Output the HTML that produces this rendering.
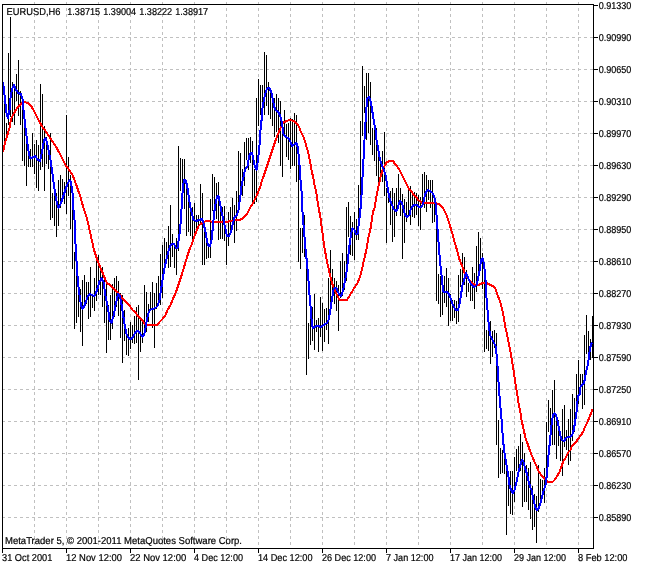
<!DOCTYPE html>
<html lang="en"><head><meta charset="utf-8"><title>EURUSD,H6</title>
<style>
html,body{margin:0;padding:0;background:#fff;}
body{width:646px;height:569px;overflow:hidden;position:relative;font-family:"Liberation Sans",sans-serif;font-size:10.2px;color:#000;}
svg{position:absolute;left:0;top:0;display:block;}
text{font-family:"Liberation Sans",sans-serif;font-size:10px;fill:#000;stroke:#000;stroke-width:0.2px;text-rendering:geometricPrecision;}
</style></head><body>
<svg width="646" height="569" viewBox="0 0 646 569">
<rect width="646" height="569" fill="#fff"/>
<g stroke="#c0c0c0" stroke-width="1" stroke-dasharray="3 3" shape-rendering="crispEdges" fill="none">
<path d="M2 37.5H593"/><path d="M2 69.5H593"/><path d="M2 101.5H593"/><path d="M2 133.5H593"/><path d="M2 165.5H593"/><path d="M2 197.5H593"/><path d="M2 229.5H593"/><path d="M2 261.5H593"/><path d="M2 293.5H593"/><path d="M2 325.5H593"/><path d="M2 357.5H593"/><path d="M2 389.5H593"/><path d="M2 421.5H593"/><path d="M2 453.5H593"/><path d="M2 485.5H593"/><path d="M2 517.5H593"/>
<path d="M34.5 2V548"/><path d="M66.5 2V548"/><path d="M98.5 2V548"/><path d="M130.5 2V548"/><path d="M162.5 2V548"/><path d="M194.5 2V548"/><path d="M226.5 2V548"/><path d="M258.5 2V548"/><path d="M290.5 2V548"/><path d="M322.5 2V548"/><path d="M354.5 2V548"/><path d="M386.5 2V548"/><path d="M418.5 2V548"/><path d="M450.5 2V548"/><path d="M482.5 2V548"/><path d="M514.5 2V548"/><path d="M546.5 2V548"/><path d="M578.5 2V548"/>
</g>
<g stroke="#000" stroke-width="1" shape-rendering="crispEdges" fill="none">
<path d="M4.5 86V142M6.5 123V134M8.5 53V125M10.5 17V117M12.5 82V122M14.5 84V125M16.5 74V101M18.5 60V116M20.5 91V125M22.5 101V161M24.5 117V166M26.5 128V186M28.5 145V167M30.5 149V167M32.5 133V167M34.5 144V174M36.5 140V188M38.5 145V191M40.5 84V170M42.5 94V167M44.5 126V191M46.5 137V164M48.5 145V169M50.5 133V220M52.5 193V218M54.5 190V226M56.5 193V237M58.5 180V226M60.5 175V208M62.5 179V200M64.5 182V204M66.5 115V214M68.5 157V196M70.5 175V229M72.5 190V269M74.5 252V329M76.5 270V323M78.5 285V317M80.5 289V332M82.5 280V346M84.5 275V304M86.5 282V304M88.5 282V319M90.5 267V317M92.5 294V308M94.5 278V311M96.5 257V301M98.5 255V295M100.5 265V295M102.5 267V307M104.5 280V323M106.5 280V353M108.5 305V340M110.5 295V340M112.5 284V329M114.5 278V317M116.5 276V307M118.5 281V316M120.5 293V338M122.5 295V363M124.5 310V341M126.5 331V355M128.5 328V356M130.5 322V349M132.5 325V343M134.5 316V344M136.5 307V343M138.5 305V380M140.5 318V352M142.5 320V343M144.5 285V336M146.5 292V332M148.5 304V322M150.5 292V310M152.5 282V328M154.5 293V348M156.5 283V309M158.5 276V303M160.5 254V305M162.5 245V298M164.5 238V265M166.5 242V263M168.5 226V268M170.5 205V267M172.5 234V257M174.5 245V268M176.5 238V275M178.5 146V251M180.5 158V191M182.5 159V206M184.5 159V209M186.5 185V236M188.5 200V232M190.5 207V236M192.5 207V240M194.5 203V234M196.5 215V229M198.5 215V225M200.5 184V225M202.5 193V265M204.5 225V265M206.5 240V259M208.5 244V258M210.5 199V258M212.5 174V211M214.5 177V212M216.5 183V219M218.5 182V240M220.5 202V239M222.5 207V239M224.5 206V241M226.5 234V265M228.5 212V246M230.5 207V232M232.5 198V225M234.5 205V243M236.5 191V231M238.5 151V213M240.5 153V202M242.5 169V196M244.5 142V186M246.5 138V160M248.5 138V170M250.5 137V163M252.5 141V205M254.5 169V204M256.5 98V202M258.5 79V126M260.5 85V115M262.5 85V112M264.5 52V115M266.5 55V106M268.5 82V115M270.5 90V119M272.5 93V126M274.5 98V137M276.5 94V132M278.5 98V143M280.5 101V166M282.5 124V177M284.5 110V137M286.5 124V157M288.5 123V160M290.5 118V169M292.5 119V166M294.5 113V166M296.5 115V182M298.5 146V262M300.5 228V269M302.5 228V253M304.5 215V257M306.5 250V375M308.5 323V359M310.5 310V345M312.5 307V341M314.5 294V350M316.5 320V332M318.5 318V352M320.5 297V337M322.5 303V351M324.5 309V342M326.5 308V330M328.5 278V344M330.5 250V310M332.5 269V295M334.5 278V304M336.5 281V311M338.5 285V331M340.5 261V298M342.5 253V296M344.5 261V290M346.5 207V281M348.5 202V237M350.5 216V255M352.5 222V256M354.5 212V260M356.5 219V240M358.5 185V240M360.5 121V213M362.5 66V136M364.5 86V113M366.5 73V140M368.5 73V133M370.5 82V145M372.5 128V155M374.5 130V161M376.5 128V176M378.5 152V185M380.5 160V182M382.5 151V182M384.5 132V196M386.5 188V243M388.5 194V203M390.5 191V225M392.5 188V242M394.5 193V237M396.5 188V216M398.5 174V207M400.5 188V216M402.5 194V259M404.5 199V243M406.5 202V222M408.5 188V217M410.5 186V225M412.5 191V217M414.5 192V218M416.5 193V215M418.5 195V226M420.5 197V230M422.5 174V203M424.5 172V208M426.5 175V212M428.5 180V200M430.5 180V208M432.5 180V223M434.5 196V222M436.5 205V301M438.5 274V304M440.5 276V317M442.5 275V315M444.5 276V303M446.5 268V307M448.5 278V326M450.5 294V321M452.5 300V321M454.5 300V318M456.5 301V324M458.5 275V322M460.5 269V287M462.5 253V282M464.5 257V285M466.5 270V297M468.5 283V292M470.5 282V301M472.5 267V301M474.5 273V309M476.5 246V292M478.5 232V274M480.5 238V270M482.5 253V289M484.5 270V352M486.5 330V349M488.5 327V351M490.5 321V364M492.5 331V357M494.5 330V348M496.5 333V445M498.5 420V478M500.5 448V474M502.5 450V473M504.5 447V474M506.5 460V535M508.5 471V506M510.5 471V514M512.5 471V515M514.5 457V502M516.5 449V471M518.5 446V471M520.5 434V471M522.5 442V507M524.5 453V502M526.5 465V502M528.5 468V510M530.5 462V519M532.5 486V530M534.5 494V527M536.5 496V543M538.5 465V512M540.5 479V500M542.5 480V498M544.5 468V503M546.5 422V485M548.5 400V432M550.5 408V440M552.5 390V445M554.5 380V445M556.5 414V459M558.5 420V446M560.5 435V461M562.5 409V476M564.5 405V447M566.5 430V450M568.5 419V465M570.5 409V461M572.5 394V441M574.5 398V432M576.5 374V410M578.5 360V404M580.5 374V394M582.5 374V409M584.5 335V405M586.5 315V354M588.5 331V358M590.5 339V360M592.5 316V358"/>
</g>
<polyline fill="none" stroke="#ff0000" stroke-width="2" stroke-linejoin="round" shape-rendering="crispEdges" points="3.0,152.0 5.0,143.0 7.0,136.0 9.5,128.0 11.0,119.0 13.5,114.0 16.5,109.0 19.5,105.0 22.5,103.0 24.5,102.0 27.5,103.0 30.5,105.0 33.5,110.0 36.5,116.0 39.5,122.0 42.5,127.0 45.0,130.0 47.5,134.0 50.0,138.0 55.0,145.0 60.0,154.0 65.5,165.0 70.0,171.0 73.0,176.0 77.0,187.0 80.5,197.0 84.0,210.0 86.0,215.0 88.0,223.0 90.0,232.0 92.0,241.0 94.0,250.0 96.0,256.0 98.0,262.0 100.5,268.0 103.5,275.0 105.5,280.0 107.0,283.0 110.0,285.0 111.0,286.0 115.0,290.0 118.5,293.0 120.0,295.0 121.5,297.0 123.5,300.0 125.0,301.0 128.0,304.0 130.0,306.0 132.5,310.0 136.0,313.0 137.0,315.0 141.0,319.0 143.5,322.0 146.0,325.0 149.5,325.0 153.5,325.0 157.0,325.0 159.5,322.0 162.5,319.0 165.5,315.0 167.5,310.0 170.0,306.0 172.5,300.0 176.0,292.0 179.0,283.0 182.0,274.0 185.0,264.0 188.0,254.0 190.0,248.0 192.0,244.0 194.0,237.0 196.5,231.0 198.5,226.0 200.5,224.0 203.5,222.0 206.0,221.0 207.5,221.0 209.0,221.0 212.5,222.0 216.0,222.0 219.0,222.0 221.0,222.0 226.0,222.0 231.0,221.0 235.5,220.0 240.0,220.0 244.5,217.0 247.0,214.0 250.0,208.0 253.0,203.0 256.0,197.0 259.0,190.0 260.5,186.0 262.0,180.0 263.0,178.0 266.0,169.0 269.0,160.0 272.0,151.0 275.0,142.0 278.0,134.0 281.0,127.0 283.0,123.0 286.0,121.0 290.0,120.0 293.5,121.0 296.5,123.0 299.0,127.0 301.0,132.0 303.5,137.0 305.5,143.0 308.0,152.0 310.0,161.0 311.5,170.0 313.5,179.0 314.5,185.0 316.0,191.0 318.0,204.0 320.5,218.0 322.5,233.0 324.5,248.0 326.0,256.0 328.0,266.0 330.0,275.0 332.0,283.0 335.5,292.0 339.5,300.0 347.0,300.0 350.0,295.0 353.0,290.0 357.5,283.0 360.0,277.0 362.0,269.0 364.5,258.0 366.5,249.0 369.0,234.0 370.0,232.0 371.5,222.0 373.0,212.0 374.5,208.0 376.0,199.0 377.5,191.0 379.0,184.0 380.5,177.0 382.5,170.0 385.0,165.0 387.0,162.0 390.0,161.0 393.0,161.0 395.0,164.0 397.5,167.0 399.5,170.0 402.0,175.0 404.0,179.0 406.5,184.0 408.5,188.0 411.0,191.0 414.0,195.0 417.0,198.0 418.0,200.0 420.0,201.0 421.0,202.0 422.0,203.0 423.5,203.0 425.0,203.0 427.0,203.0 429.5,203.0 432.5,203.0 436.0,203.0 438.5,204.0 441.5,206.0 443.5,209.0 446.0,214.0 448.0,219.0 450.0,226.0 452.5,234.0 454.5,242.0 457.0,250.0 459.0,258.0 460.5,262.0 463.0,268.0 465.0,274.0 466.0,273.0 467.0,277.0 470.0,281.0 473.0,284.0 476.0,285.0 479.0,285.0 482.0,283.0 485.0,283.0 487.0,283.0 490.0,285.0 493.0,286.0 495.5,289.0 497.5,295.0 500.0,301.0 502.0,309.0 503.5,316.0 505.5,328.0 507.0,334.0 508.5,342.0 510.5,352.0 512.0,361.0 513.5,370.0 515.0,381.0 516.5,390.0 518.0,399.0 519.0,406.0 520.5,413.0 521.5,420.0 523.5,429.0 525.5,438.0 528.0,445.0 530.0,451.0 532.0,456.0 534.5,462.0 537.0,467.0 538.5,471.0 541.0,475.0 544.0,478.0 545.5,480.0 546.5,481.0 548.5,482.0 550.5,482.0 552.5,482.0 554.5,480.0 556.5,477.0 559.0,473.0 561.0,468.0 563.0,462.0 566.0,457.0 568.5,452.0 570.5,450.0 572.0,446.0 573.5,445.0 575.0,443.0 576.0,442.0 578.0,439.0 581.0,435.0 583.0,432.0 585.0,427.0 587.5,422.0 590.0,416.0 591.5,412.0 592.5,409.0"/>
<polyline fill="none" stroke="#0000ff" stroke-width="2" stroke-linejoin="round" shape-rendering="crispEdges" points="3.0,82.0 4.0,90.0 5.0,99.0 6.5,113.0 8.0,118.0 9.5,110.0 10.5,98.0 12.0,89.0 14.0,85.0 15.5,89.0 18.0,93.0 21.0,94.0 22.5,99.0 23.5,110.0 25.5,128.0 26.5,136.0 28.0,148.0 30.0,158.0 32.0,158.0 35.0,156.0 38.0,160.0 40.0,161.0 42.0,152.0 44.0,140.0 45.5,138.0 47.0,142.0 49.0,152.0 51.0,163.0 53.0,178.0 55.0,193.0 57.0,203.0 58.5,208.0 61.0,203.0 64.0,194.0 67.0,185.0 69.5,180.0 71.0,182.0 72.5,193.0 73.5,210.0 74.5,220.0 75.5,244.0 76.5,261.0 78.0,283.0 79.5,295.0 81.0,305.0 82.5,309.0 84.0,307.0 86.0,301.0 88.0,296.0 90.0,294.0 92.0,295.0 94.5,296.0 96.0,293.0 98.0,287.0 99.5,281.0 100.5,281.0 101.5,278.0 103.5,282.0 105.0,293.0 107.0,303.0 108.0,308.0 109.5,320.0 111.5,323.0 114.0,314.0 115.5,305.0 117.0,299.0 118.0,294.0 119.5,295.0 121.0,301.0 122.5,311.0 124.5,324.0 126.5,334.0 128.5,338.0 130.5,339.0 132.5,338.0 134.5,334.0 136.5,331.0 138.5,331.0 140.5,334.0 142.5,337.0 144.0,335.0 145.5,328.0 147.0,319.0 148.5,313.0 150.0,310.0 152.5,309.0 155.5,308.0 157.5,306.0 159.5,300.0 161.0,290.0 162.5,280.0 164.5,268.0 166.5,259.0 168.5,251.0 170.5,245.0 172.0,244.0 174.0,244.0 176.0,248.0 177.5,248.0 179.5,234.0 181.0,219.0 182.0,200.0 183.0,186.0 184.0,180.0 185.5,180.0 187.0,185.0 188.5,195.0 190.0,206.0 192.0,214.0 193.5,220.0 196.0,221.0 199.0,220.0 202.0,219.0 203.5,223.0 205.5,232.0 207.0,241.0 208.5,246.0 210.0,246.0 211.5,240.0 213.0,226.0 214.0,214.0 215.5,204.0 217.0,197.0 218.5,196.0 220.0,203.0 221.5,212.0 223.5,220.0 225.0,227.0 227.0,236.0 229.0,236.0 231.0,232.0 232.5,225.0 234.5,217.0 236.5,216.0 238.5,210.0 239.5,202.0 240.5,195.0 241.5,186.0 243.0,179.0 245.0,170.0 247.5,166.0 249.0,157.0 250.5,153.0 252.0,153.0 253.5,160.0 255.0,167.0 256.5,170.0 258.0,160.0 259.5,145.0 260.5,130.0 262.0,116.0 262.5,108.0 264.0,99.0 265.5,93.0 267.0,89.0 268.5,88.0 270.0,89.0 271.5,93.0 273.0,100.0 274.0,106.0 275.5,110.0 278.0,112.0 280.0,115.0 282.0,123.0 283.5,134.0 285.5,137.0 288.5,138.0 290.5,142.0 292.0,146.0 294.5,144.0 296.5,143.0 298.0,148.0 299.5,165.0 300.5,180.0 301.5,191.0 302.5,212.0 303.5,225.0 304.5,237.0 305.5,249.0 307.0,263.0 308.5,281.0 309.5,295.0 311.0,312.0 312.0,326.0 313.0,328.0 314.5,327.0 316.5,326.0 318.5,326.0 320.5,327.0 322.5,326.0 325.0,324.0 327.0,323.0 328.5,320.0 330.0,313.0 331.0,305.0 332.5,296.0 333.5,290.0 335.0,288.0 336.5,288.0 338.0,292.0 339.5,295.0 341.0,296.0 342.5,292.0 344.0,286.0 345.5,278.0 347.0,269.0 349.0,249.0 351.0,234.0 352.5,228.0 354.5,230.0 356.0,234.0 357.5,234.0 359.5,218.0 361.0,204.0 363.0,169.0 365.0,130.0 366.5,107.0 367.5,98.0 369.0,97.0 370.5,101.0 372.0,109.0 373.5,119.0 375.5,130.0 376.5,140.0 378.0,148.0 379.5,157.0 382.0,166.0 384.0,170.0 385.5,175.0 387.0,184.0 388.5,193.0 390.0,200.0 391.0,203.0 392.5,206.0 393.5,209.0 394.5,210.0 396.5,211.0 397.5,209.0 398.5,205.0 400.0,201.0 402.0,203.0 403.5,209.0 405.0,215.0 406.5,217.0 408.5,216.0 409.5,215.0 410.5,210.0 412.5,206.0 414.5,205.0 417.0,205.0 419.0,207.0 420.0,207.0 421.5,207.0 423.0,204.0 424.5,197.0 426.0,192.0 428.0,190.0 430.0,191.0 432.5,193.0 433.5,195.0 435.0,199.0 436.0,207.0 437.0,223.0 438.0,235.0 440.0,261.0 441.5,275.0 442.5,285.0 443.5,292.0 445.5,292.0 447.5,292.0 449.0,294.0 450.5,298.0 452.5,304.0 454.5,308.0 456.0,310.0 458.0,310.0 459.5,304.0 461.0,295.0 462.5,285.0 464.0,281.0 465.0,276.0 466.0,273.0 467.0,275.0 468.5,279.0 470.5,283.0 472.5,286.0 474.5,287.0 476.5,285.0 478.0,279.0 479.5,271.0 480.5,264.0 481.5,259.0 482.5,258.0 484.0,264.0 485.5,280.0 486.5,298.0 487.5,310.0 489.0,328.0 490.5,336.0 492.5,340.0 494.0,343.0 495.5,346.0 497.0,358.0 498.5,382.0 500.0,403.0 501.5,419.0 503.0,440.0 504.5,453.0 507.0,468.0 508.5,477.0 509.5,485.0 511.0,490.0 513.0,493.0 514.5,490.0 516.0,484.0 517.5,477.0 519.0,470.0 520.0,466.0 522.0,460.0 523.5,462.0 525.0,468.0 527.0,474.0 528.5,481.0 530.5,488.0 531.5,490.0 533.0,498.0 534.5,504.0 536.0,509.0 537.5,510.0 539.0,508.0 540.5,503.0 542.0,497.0 543.5,491.0 545.5,485.0 547.0,474.0 548.5,455.0 550.0,441.0 551.0,430.0 552.0,421.0 553.0,415.0 554.5,413.0 556.0,415.0 557.5,421.0 559.0,428.0 560.5,436.0 562.0,440.0 564.0,441.0 566.0,438.0 568.5,437.0 570.5,437.0 572.5,434.0 574.0,429.0 576.5,412.0 577.5,401.0 578.5,395.0 579.5,395.0 580.5,387.0 582.5,384.0 584.0,383.0 585.0,378.0 586.5,370.0 588.0,364.0 589.0,356.0 590.0,349.0 591.0,344.0 592.5,343.0"/>
<g stroke="#000" stroke-width="1" shape-rendering="crispEdges" fill="none">
<path d="M2.5 4V548.5M2 4.5H594M593.5 4V548.5M2 548.5H594"/>
<path d="M594 5.5H598M594 37.5H598M594 69.5H598M594 101.5H598M594 133.5H598M594 165.5H598M594 197.5H598M594 229.5H598M594 261.5H598M594 293.5H598M594 325.5H598M594 357.5H598M594 389.5H598M594 421.5H598M594 453.5H598M594 485.5H598M594 517.5H598M2.5 549V553M66.5 549V553M130.5 549V553M194.5 549V553M258.5 549V553M322.5 549V553M386.5 549V553M450.5 549V553M514.5 549V553M578.5 549V553"/>
</g>
<g>
<text x="598.7" y="9" textLength="32.6" lengthAdjust="spacingAndGlyphs" xml:space="preserve">0.91330</text>
<text x="598.7" y="41" textLength="32.6" lengthAdjust="spacingAndGlyphs" xml:space="preserve">0.90990</text>
<text x="598.7" y="73" textLength="32.6" lengthAdjust="spacingAndGlyphs" xml:space="preserve">0.90650</text>
<text x="598.7" y="105" textLength="32.6" lengthAdjust="spacingAndGlyphs" xml:space="preserve">0.90310</text>
<text x="598.7" y="137" textLength="32.6" lengthAdjust="spacingAndGlyphs" xml:space="preserve">0.89970</text>
<text x="598.7" y="169" textLength="32.6" lengthAdjust="spacingAndGlyphs" xml:space="preserve">0.89630</text>
<text x="598.7" y="201" textLength="32.6" lengthAdjust="spacingAndGlyphs" xml:space="preserve">0.89290</text>
<text x="598.7" y="233" textLength="32.6" lengthAdjust="spacingAndGlyphs" xml:space="preserve">0.88950</text>
<text x="598.7" y="265" textLength="32.6" lengthAdjust="spacingAndGlyphs" xml:space="preserve">0.88610</text>
<text x="598.7" y="297" textLength="32.6" lengthAdjust="spacingAndGlyphs" xml:space="preserve">0.88270</text>
<text x="598.7" y="329" textLength="32.6" lengthAdjust="spacingAndGlyphs" xml:space="preserve">0.87930</text>
<text x="598.7" y="361" textLength="32.6" lengthAdjust="spacingAndGlyphs" xml:space="preserve">0.87590</text>
<text x="598.7" y="393" textLength="32.6" lengthAdjust="spacingAndGlyphs" xml:space="preserve">0.87250</text>
<text x="598.7" y="425" textLength="32.6" lengthAdjust="spacingAndGlyphs" xml:space="preserve">0.86910</text>
<text x="598.7" y="457" textLength="32.6" lengthAdjust="spacingAndGlyphs" xml:space="preserve">0.86570</text>
<text x="598.7" y="489" textLength="32.6" lengthAdjust="spacingAndGlyphs" xml:space="preserve">0.86230</text>
<text x="598.7" y="521" textLength="32.6" lengthAdjust="spacingAndGlyphs" xml:space="preserve">0.85890</text>
<text x="2" y="561" textLength="50.3" lengthAdjust="spacingAndGlyphs" xml:space="preserve">31 Oct 2001</text>
<text x="66" y="561" textLength="56" lengthAdjust="spacingAndGlyphs" xml:space="preserve">12 Nov 12:00</text>
<text x="130" y="561" textLength="56.3" lengthAdjust="spacingAndGlyphs" xml:space="preserve">22 Nov 12:00</text>
<text x="194" y="561" textLength="49" lengthAdjust="spacingAndGlyphs" xml:space="preserve">4 Dec 12:00</text>
<text x="258" y="561" textLength="54.5" lengthAdjust="spacingAndGlyphs" xml:space="preserve">14 Dec 12:00</text>
<text x="322" y="561" textLength="54" lengthAdjust="spacingAndGlyphs" xml:space="preserve">26 Dec 12:00</text>
<text x="386" y="561" textLength="47.5" lengthAdjust="spacingAndGlyphs" xml:space="preserve">7 Jan 12:00</text>
<text x="450" y="561" textLength="52" lengthAdjust="spacingAndGlyphs" xml:space="preserve">17 Jan 12:00</text>
<text x="514" y="561" textLength="52" lengthAdjust="spacingAndGlyphs" xml:space="preserve">29 Jan 12:00</text>
<text x="578" y="561" textLength="49.5" lengthAdjust="spacingAndGlyphs" xml:space="preserve">8 Feb 12:00</text>
<text x="6.6" y="15" textLength="53.8" lengthAdjust="spacingAndGlyphs" xml:space="preserve">EURUSD,H6</text>
<text x="67.2" y="15" textLength="33" lengthAdjust="spacingAndGlyphs" xml:space="preserve">1.38715</text>
<text x="103.2" y="15" textLength="33" lengthAdjust="spacingAndGlyphs" xml:space="preserve">1.39004</text>
<text x="139.2" y="15" textLength="33" lengthAdjust="spacingAndGlyphs" xml:space="preserve">1.38222</text>
<text x="175.2" y="15" textLength="33" lengthAdjust="spacingAndGlyphs" xml:space="preserve">1.38917</text>
<text x="5" y="544" textLength="237" lengthAdjust="spacingAndGlyphs" xml:space="preserve">MetaTrader 5, © 2001-2011 MetaQuotes Software Corp.</text>
</g>
</svg>
</body></html>
